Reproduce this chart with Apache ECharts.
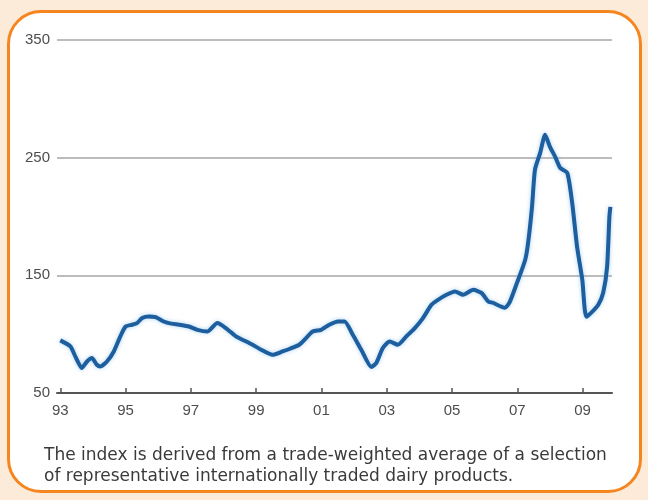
<!DOCTYPE html>
<html>
<head>
<meta charset="utf-8">
<script src="https://cdn.jsdelivr.net/npm/echarts@6/dist/echarts.min.js"></script>
<style>
  html, body { margin: 0; padding: 0; background: #fdebd9; }
  #frame { position: absolute; left: 7px; top: 10px; width: 629px; height: 477px;
           border: 3px solid #f5851f; border-radius: 34px; background: #ffffff; }
  #chart { position: absolute; left: 0; top: 0; width: 648px; height: 500px; }
</style>
</head>
<body>
<div id="frame"></div>
<div id="chart"></div>
<script>
// Decimal years (x) and index values (y)
const years = [
  1993.0, 1993.31, 1993.46, 1993.66, 1993.82, 1993.97, 1994.12, 1994.23, 1994.43, 1994.64,
  1994.84, 1995.0, 1995.2, 1995.35, 1995.51, 1995.71, 1995.92, 1996.17, 1996.33, 1996.64,
  1996.94, 1997.2, 1997.51, 1997.81, 1998.07, 1998.38, 1998.58, 1998.89, 1999.15, 1999.5,
  1999.81, 2000.02, 2000.32, 2000.53, 2000.73, 2000.99, 2001.24, 2001.5, 2001.71, 2001.96,
  2002.22, 2002.53, 2002.68, 2002.88, 2003.09, 2003.34, 2003.6, 2003.86, 2004.11, 2004.37,
  2004.57, 2004.83, 2005.09, 2005.34, 2005.65, 2005.91, 2006.11, 2006.25, 2006.62, 2006.77,
  2006.99, 2007.24, 2007.33, 2007.45, 2007.54, 2007.7, 2007.85, 2008.0, 2008.16, 2008.31,
  2008.53, 2008.68, 2008.83, 2008.99, 2009.11, 2009.29, 2009.48, 2009.63, 2009.75, 2009.82,
  2009.85
];
const indexValues = [
  94.7, 89.6, 81.1, 71.2, 76.8, 79.7, 74.0, 72.6, 76.8, 85.3,
  98.1, 106.5, 108.0, 109.4, 113.7, 115.0, 114.5, 110.8, 109.4, 108.0,
  106.5, 103.7, 102.3, 109.4, 105.2, 98.1, 95.3, 91.0, 86.8, 82.5,
  85.3, 87.4, 91.0, 96.7, 102.3, 103.7, 108.0, 110.8, 110.8, 99.5,
  86.8, 72.1, 75.5, 88.2, 93.8, 91.0, 98.1, 105.2, 113.7, 125.0,
  129.2, 133.5, 136.3, 133.5, 137.7, 134.9, 127.8, 126.7, 122.4, 127.5,
  143.6, 163.1, 177.5, 208.3, 239.7, 254.1, 269.4, 259.2, 250.7, 241.4,
  237.1, 211.7, 174.3, 146.2, 114.8, 119.0, 125.0, 135.2, 157.2, 199.7,
  208.2
];
const xTickYears = [1993, 1995, 1997, 1999, 2001, 2003, 2005, 2007, 2009];
const yTickValues = [50, 150, 250, 350];
const captionLines = [
  'The index is derived from a trade-weighted average of a selection',
  'of representative internationally traded dairy products.'
];

const seriesData = years.map((y, i) => [y, indexValues[i]]);

const chart = echarts.init(document.getElementById('chart'), null, { renderer: 'canvas' });
chart.setOption({
  backgroundColor: 'transparent',
  animation: false,
  grid: { left: 57, right: 36, top: 40, bottom: 107, containLabel: false },
  title: {
    text: captionLines.join('\n'),
    left: 44, top: 445, padding: 0,
    textStyle: { fontFamily: 'DejaVu Sans', fontSize: 17, fontWeight: 'normal', color: '#3a3a3a', lineHeight: 21 }
  },
  xAxis: {
    type: 'value',
    min: 1992.9, max: 2009.9,
    axisLine: { show: true, lineStyle: { color: '#555', width: 2 } },
    axisTick: { show: true, inside: true, length: 5, lineStyle: { color: '#555', width: 1.5 }, customValues: xTickYears },
    axisLabel: {
      customValues: xTickYears,
      margin: 10,
      color: '#4d4d4d', fontSize: 15, fontFamily: 'Liberation Sans',
      formatter: v => String(Math.round(v) % 100).padStart(2, '0')
    },
    splitLine: { show: false }
  },
  yAxis: {
    type: 'value',
    min: 50, max: 350,
    axisLine: { show: false },
    axisTick: { show: false, customValues: yTickValues },
    axisLabel: { customValues: yTickValues, margin: 7, color: '#4d4d4d', fontSize: 15, fontFamily: 'Liberation Sans' },
    splitLine: { show: true, lineStyle: { color: '#a6a6a6', width: 1.5 } }
  },
  series: [{
    type: 'line',
    data: seriesData,
    showSymbol: false,
    smooth: 0.2,
    lineStyle: { color: '#1c5e9e', width: 4, shadowColor: 'rgba(120,180,230,0.6)', shadowBlur: 4 },
    z: 3
  }]
});
</script>
</body>
</html>
